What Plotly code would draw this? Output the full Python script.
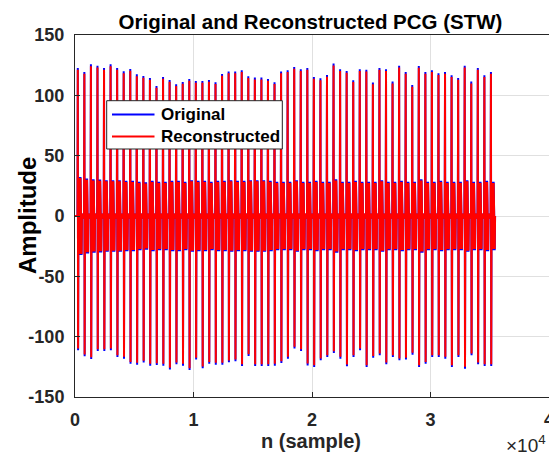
import plotly.graph_objects as go

# ---- data ----
# sample index of each heartbeat's main spike
beat_pos = [236, 789, 1343, 1896, 2450, 3003, 3556, 4110, 4663, 5217,
            5770, 6323, 6877, 7430, 7984, 8537, 9090, 9644, 10197, 10751,
            11304, 11857, 12411, 12964, 13518, 14071, 14624, 15178, 15731, 16285,
            16838, 17391, 17945, 18498, 19052, 19605, 20158, 20712, 21265, 21819,
            22372, 22925, 23479, 24032, 24586, 25139, 25692, 26246, 26799, 27353,
            27906, 28459, 29013, 29566, 30120, 30673, 31226, 31780, 32333, 32887,
            33440, 33993, 34547, 35100]
# original signal: positive / negative spike peaks
orig_pos = [122.7, 119.4, 125.7, 124.6, 122.7, 125.7, 122.7, 119.9, 121.9, 117.4,
            116.0, 114.4, 107.8, 115.2, 112.7, 109.2, 111.1, 113.6, 111.9, 111.9,
            112.7, 110.8, 117.7, 119.7, 119.7, 120.8, 115.8, 114.7, 114.7, 113.6,
            110.8, 119.7, 120.8, 123.5, 121.6, 122.7, 115.2, 114.1, 116.9, 126.3,
            121.6, 120.2, 112.5, 121.6, 121.3, 110.6, 122.7, 121.6, 111.4, 124.6,
            119.4, 108.6, 124.3, 119.4, 120.8, 118.3, 119.4, 116.6, 114.4, 124.6,
            111.4, 122.7, 116.6, 119.4]
orig_neg = [-111.3, -116.3, -118.5, -111.9, -111.9, -111.3, -116.9, -118.2, -122.4, -123.2,
            -121.5, -124.0, -123.5, -124.0, -127.3, -122.9, -124.0, -127.7, -119.0, -126.2,
            -122.4, -123.2, -123.2, -121.3, -120.4, -124.3, -116.0, -124.3, -124.3, -124.3,
            -124.0, -121.8, -118.2, -109.9, -111.9, -123.8, -125.1, -119.6, -116.9, -113.5,
            -118.2, -124.6, -116.9, -111.3, -125.1, -117.5, -115.5, -122.9, -116.9, -119.6,
            -119.0, -114.9, -125.1, -122.4, -116.9, -116.9, -118.2, -125.1, -116.9, -126.5,
            -115.5, -122.9, -124.3, -124.3]
# reconstructed signal: spike peaks (slightly smaller than original)
recon_pos = [121.2, 117.9, 124.2, 123.1, 121.2, 124.2, 121.2, 118.4, 120.4, 115.9,
             114.5, 112.9, 106.3, 113.7, 111.2, 107.7, 109.6, 112.1, 110.4, 110.4,
             111.2, 109.3, 116.2, 118.2, 118.2, 119.3, 114.3, 113.2, 113.2, 112.1,
             109.3, 118.2, 119.3, 122.0, 120.1, 121.2, 113.7, 112.6, 115.4, 124.8,
             120.1, 118.7, 111.0, 120.1, 119.8, 109.1, 121.2, 120.1, 109.9, 123.1,
             117.9, 107.1, 122.8, 117.9, 119.3, 116.8, 117.9, 115.1, 112.9, 123.1,
             109.9, 121.2, 115.1, 117.9]
recon_neg = [-109.8, -114.8, -117.0, -110.4, -110.4, -109.8, -115.4, -116.7, -120.9, -121.7,
             -120.0, -122.5, -122.0, -122.5, -125.8, -121.4, -122.5, -126.2, -117.5, -124.7,
             -120.9, -121.7, -121.7, -119.8, -118.9, -122.8, -114.5, -122.8, -122.8, -122.8,
             -122.5, -120.3, -116.7, -108.4, -110.4, -122.3, -123.6, -118.1, -115.4, -112.0,
             -116.7, -123.1, -115.4, -109.8, -123.6, -116.0, -114.0, -121.4, -115.4, -118.1,
             -117.5, -113.4, -123.6, -120.9, -115.4, -115.4, -116.7, -123.6, -115.4, -125.0,
             -114.0, -121.4, -122.8, -122.8]
# secondary (smaller) sound burst amplitude following each spike
orig_burst = [32.4, 31.0, 30.5, 30.2, 29.7, 29.7, 29.7, 29.2, 29.2, 28.3,
              28.0, 29.2, 28.3, 28.3, 29.2, 29.2, 28.3, 29.7, 29.2, 29.2,
              28.3, 29.2, 29.2, 29.7, 29.2, 29.2, 29.7, 29.7, 29.7, 29.2,
              28.3, 28.3, 28.3, 29.7, 28.3, 28.3, 29.2, 28.3, 28.3, 30.5,
              28.3, 28.3, 29.2, 28.3, 28.3, 28.3, 29.7, 28.3, 28.3, 29.2,
              28.3, 28.3, 30.5, 28.3, 28.3, 29.2, 28.3, 28.3, 28.3, 29.7,
              28.3, 28.3, 29.2, 28.3]
recon_burst_drop = 1.0   # reconstructed burst is ~1 unit lower than original
baseline_amp = 2.0       # small residual oscillation between beats

series_names = ["Original", "Reconstructed"]
series_colors = ["#0000ff", "#ff0000"]
x_ticks = [0, 10000, 20000, 30000, 40000]
x_tick_labels = ["0", "1", "2", "3", "4"]
y_ticks = [-150, -100, -50, 0, 50, 100, 150]
y_tick_labels = ["-150", "-100", "-50", "0", "50", "100", "150"]


def build(pos, neg, burst, drop):
    xs, ys = [0], [0]
    last = len(beat_pos) - 1
    for i, p in enumerate(beat_pos):
        b = burst[i] - drop
        xs += [p - 25, p, p + 25, p + 50]
        ys += [0, pos[i], neg[i], 0]
        for j in range(8):
            xs.append(p + 110 + 30 * j)
            ys.append(b if j % 2 == 0 else -b)
        xs.append(p + 350)
        ys.append(0)
        if i < last:
            xs += [p + 400, p + 450, p + 500]
            ys += [baseline_amp, -baseline_amp, 0]
    return xs, ys


xo, yo = build(orig_pos, orig_neg, orig_burst, 0.0)
xr, yr = build(recon_pos, recon_neg, orig_burst, recon_burst_drop)

FONT = "Liberation Sans, Arial, sans-serif"
AX = "#262626"

# plot area in pixels: x 75..549, y 35..397
PL, PR, PT, PB = 75, 549, 35, 397


def px(x):
    return (x - PL) / (PR - PL)


def py(y):
    return (PB - y) / (PB - PT)


fig = go.Figure()
fig.add_trace(go.Scatter(x=xo, y=yo, mode="lines", name=series_names[0],
                         line=dict(color=series_colors[0], width=2), showlegend=False))
fig.add_trace(go.Scatter(x=xr, y=yr, mode="lines", name=series_names[1],
                         line=dict(color=series_colors[1], width=2), showlegend=False))

fig.update_layout(
    width=549, height=457,
    margin=dict(l=PL, r=549 - PR, t=PT, b=457 - PB),
    paper_bgcolor="white", plot_bgcolor="white",
    font=dict(family=FONT, color=AX),
    title=dict(text="Original and Reconstructed PCG (STW)",
               font=dict(family=FONT, size=20.5, color="#000000", weight="bold"),
               x=310.5 / 549, xanchor="center", xref="container",
               y=1 - 22 / 457, yanchor="middle", yref="container"),
    showlegend=False,
)
fig.update_xaxes(range=[0, 40000], tickvals=x_ticks, ticktext=x_tick_labels,
                 showgrid=True, gridcolor="#e0e0e0", gridwidth=1,
                 showline=True, linecolor=AX, linewidth=1, mirror=True,
                 ticks="inside", ticklen=5, tickcolor=AX,
                 tickfont=dict(family=FONT, size=18, color=AX, weight="bold"),
                 zeroline=False, automargin=False, ticklabelstandoff=6,
                 ticklabeloverflow="allow")
fig.update_yaxes(range=[-150, 150], tickvals=y_ticks, ticktext=y_tick_labels,
                 showgrid=True, gridcolor="#e0e0e0", gridwidth=1,
                 showline=True, linecolor=AX, linewidth=1, mirror=True,
                 ticks="inside", ticklen=5, tickcolor=AX,
                 tickfont=dict(family=FONT, size=18, color=AX, weight="bold"),
                 zeroline=False, automargin=False, ticklabelstandoff=6)

# legend box (drawn as shapes + text for exact placement)
fig.add_shape(type="rect", xref="paper", yref="paper",
              x0=px(106.7), x1=px(282.3), y0=py(149), y1=py(100.7),
              fillcolor="white", line=dict(color=AX, width=1), layer="above")
for k, yy in enumerate([114.5, 136.5]):
    fig.add_shape(type="line", xref="paper", yref="paper",
                  x0=px(112), x1=px(154.5), y0=py(yy), y1=py(yy),
                  line=dict(color=series_colors[k], width=2), layer="above")
    fig.add_annotation(text=series_names[k], xref="paper", yref="paper",
                       x=px(158.5), y=py(yy), xanchor="left", yanchor="middle",
                       showarrow=False,
                       font=dict(family=FONT, size=17, color="#000000", weight="bold"))

fig.add_annotation(text="Amplitude", textangle=-90, xref="paper", yref="paper",
                   x=px(27), y=0.5, xanchor="center", yanchor="middle",
                   showarrow=False,
                   font=dict(family=FONT, size=24, color="#000000", weight="bold"))
fig.add_annotation(text="n (sample)", xref="paper", yref="paper",
                   x=px(310.6), y=py(441), xanchor="center",
                   yanchor="middle", showarrow=False,
                   font=dict(family=FONT, size=20, color=AX, weight="bold"))
fig.add_annotation(text="×10<sup>4</sup>", xref="paper", yref="paper",
                   x=px(504), y=py(444), xanchor="left",
                   yanchor="middle", showarrow=False,
                   font=dict(family=FONT, size=19, color=AX))

fig.write_html("out.html")
